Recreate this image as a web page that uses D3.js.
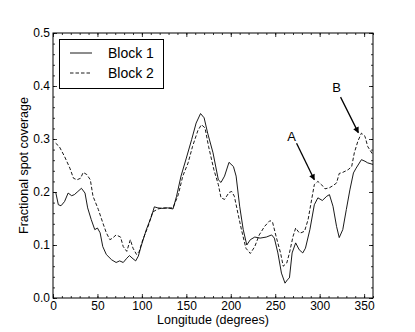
<!DOCTYPE html>
<html>
<head>
<meta charset="utf-8">
<script src="https://cdn.jsdelivr.net/npm/d3@7"></script>
<style>
  html, body { margin: 0; padding: 0; background: #fff; }
  svg text { font-family: "Liberation Sans", Arial, sans-serif; fill: #000; }
</style>
</head>
<body>
<svg id="chart" width="415" height="332"></svg>
<script>
// Longitude (deg) and fractional spot coverage
const lon1 = [3, 6, 9, 13, 17, 21, 24, 28, 32, 36, 39, 43, 47, 50, 53, 56, 60, 66, 71, 75, 79, 83, 86, 90, 93, 96, 99,
  105, 111, 114, 118, 124, 129, 135, 139, 144, 150, 156, 161, 166, 170, 174, 180, 186, 189, 193, 198, 203, 206, 210,
  214, 218, 222, 227, 233, 240, 246, 249, 253, 257, 261, 264, 266, 269, 273, 277, 281, 284, 289, 294, 298, 303, 308,
  311, 315, 319, 322, 326, 330, 334, 338, 341, 347, 351, 354, 360];
const cov1 = [0.200, 0.176, 0.174, 0.182, 0.198, 0.193, 0.195, 0.201, 0.207, 0.198, 0.170, 0.148, 0.129, 0.132, 0.123,
  0.097, 0.082, 0.072, 0.067, 0.070, 0.067, 0.075, 0.080, 0.074, 0.070, 0.079, 0.097, 0.129, 0.155, 0.172, 0.170,
  0.169, 0.170, 0.168, 0.192, 0.230, 0.264, 0.299, 0.330, 0.348, 0.340, 0.311, 0.274, 0.223, 0.218, 0.230, 0.256,
  0.248, 0.230, 0.173, 0.129, 0.100, 0.110, 0.115, 0.113, 0.115, 0.119, 0.113, 0.085, 0.047, 0.028, 0.035, 0.038,
  0.085, 0.104, 0.091, 0.085, 0.094, 0.129, 0.176, 0.189, 0.184, 0.192, 0.195, 0.173, 0.135, 0.114, 0.129, 0.167,
  0.204, 0.236, 0.245, 0.261, 0.258, 0.255, 0.252];

const lon2 = [3, 7, 13, 19, 23, 27, 31, 34, 38, 42, 45, 51, 56, 60, 64, 67, 71, 76, 79, 83, 87, 90, 94, 97, 101, 107,
  112, 118, 124, 129, 135, 141, 146, 152, 157, 163, 167, 171, 175, 181, 186, 189, 193, 198, 201, 204, 208, 212, 217,
  222, 227, 232, 238, 244, 247, 251, 256, 259, 263, 266, 270, 273, 277, 279, 283, 287, 291, 294, 298, 302, 306, 311,
  315, 319, 322, 326, 332, 336, 339, 343, 347, 351, 354, 360];
const cov2 = [0.292, 0.286, 0.267, 0.245, 0.226, 0.223, 0.226, 0.237, 0.233, 0.223, 0.192, 0.167, 0.142, 0.123, 0.110,
  0.113, 0.119, 0.115, 0.097, 0.088, 0.110, 0.094, 0.082, 0.088, 0.110, 0.135, 0.162, 0.168, 0.170, 0.170, 0.170,
  0.195, 0.230, 0.255, 0.286, 0.316, 0.327, 0.321, 0.286, 0.242, 0.214, 0.189, 0.186, 0.199, 0.201, 0.192, 0.160,
  0.129, 0.094, 0.084, 0.097, 0.119, 0.135, 0.146, 0.143, 0.116, 0.085, 0.060, 0.066, 0.085, 0.116, 0.132, 0.123,
  0.123, 0.126, 0.148, 0.186, 0.214, 0.220, 0.214, 0.206, 0.208, 0.212, 0.217, 0.235, 0.237, 0.242, 0.248, 0.274,
  0.296, 0.311, 0.305, 0.286, 0.270];

const xTicks = [0, 50, 100, 150, 200, 250, 300, 350];
const yTicks = [0.0, 0.1, 0.2, 0.3, 0.4, 0.5];
const seriesNames = ['Block 1', 'Block 2'];

// annotations: label position, arrow tail, arrow head (data coords)
const notes = [
  { text: 'A', lx: 268.5, ly: 0.306, x0: 274, y0: 0.292, x1: 294, y1: 0.223 },
  { text: 'B', lx: 319, ly: 0.398, x0: 323.5, y0: 0.379, x1: 343.5, y1: 0.312 }
];

const W = 415, H = 332;
const MARGIN = { top: 33, right: 42, bottom: 34, left: 53 };

const svg = d3.select('#chart');

const x = d3.scaleLinear().domain([0, 360]).range([MARGIN.left, W - MARGIN.right]);
const y = d3.scaleLinear().domain([0, 0.5]).range([H - MARGIN.bottom, MARGIN.top]);

const defs = svg.append('defs');
defs.append('marker')
  .attr('id', 'arrowHead')
  .attr('viewBox', '0 0 10 10')
  .attr('refX', 9).attr('refY', 5)
  .attr('markerWidth', 7).attr('markerHeight', 6)
  .attr('markerUnits', 'userSpaceOnUse')
  .attr('orient', 'auto')
  .append('path')
  .attr('d', 'M0,0 L10,5 L0,10 Z')
  .attr('fill', '#000');

// Lines
const lineGen = (xs, ys) => d3.line().x((_, i) => x(xs[i])).y(d => y(d))(ys);

svg.append('path')
  .attr('d', lineGen(lon1, cov1))
  .attr('fill', 'none')
  .attr('stroke', '#000')
  .attr('stroke-width', 0.9);

svg.append('path')
  .attr('d', lineGen(lon2, cov2))
  .attr('fill', 'none')
  .attr('stroke', '#000')
  .attr('stroke-width', 0.9)
  .attr('stroke-dasharray', '3.5 2');

// Axes: ticks inward on all four sides, minor ticks too
const xMinor = d3.range(0, 361, 10);
const yMinor = d3.range(0, 0.5001, 0.02);
const bottomY = H - MARGIN.bottom, topY = MARGIN.top;
const leftX = MARGIN.left, rightX = W - MARGIN.right;

function styleAxis(g) {
  g.select('.domain').remove();
  g.selectAll('line').attr('stroke', '#000').attr('stroke-width', 0.8);
  g.selectAll('text').attr('font-size', 12).attr('font-family', '"Liberation Sans", Arial, sans-serif');
}

svg.append('g').attr('transform', `translate(0,${bottomY})`)
  .call(d3.axisBottom(x).tickValues(xMinor).tickSize(-2).tickFormat(''))
  .call(styleAxis);
svg.append('g').attr('transform', `translate(0,${topY})`)
  .call(d3.axisTop(x).tickValues(xMinor).tickSize(-2).tickFormat(''))
  .call(styleAxis);
svg.append('g').attr('transform', `translate(${leftX},0)`)
  .call(d3.axisLeft(y).tickValues(yMinor).tickSize(-2).tickFormat(''))
  .call(styleAxis);
svg.append('g').attr('transform', `translate(${rightX},0)`)
  .call(d3.axisRight(y).tickValues(yMinor).tickSize(-2).tickFormat(''))
  .call(styleAxis);

svg.append('g').attr('transform', `translate(0,${bottomY})`)
  .call(d3.axisBottom(x).tickValues(xTicks).tickSize(-4).tickPadding(3).tickFormat(d3.format('d')))
  .call(styleAxis);
svg.append('g').attr('transform', `translate(0,${topY})`)
  .call(d3.axisTop(x).tickValues(xTicks).tickSize(-4).tickFormat(''))
  .call(styleAxis);
svg.append('g').attr('transform', `translate(${leftX},0)`)
  .call(d3.axisLeft(y).tickValues(yTicks).tickSize(-4).tickPadding(3).tickFormat(d3.format('.1f')))
  .call(styleAxis);
svg.append('g').attr('transform', `translate(${rightX},0)`)
  .call(d3.axisRight(y).tickValues(yTicks).tickSize(-4).tickFormat(''))
  .call(styleAxis);

// Frame
svg.append('rect')
  .attr('x', leftX).attr('y', topY)
  .attr('width', rightX - leftX).attr('height', bottomY - topY)
  .attr('fill', 'none')
  .attr('stroke', '#000')
  .attr('stroke-width', 1);

// Axis labels
svg.append('text')
  .attr('x', (leftX + rightX) / 2)
  .attr('y', 324)
  .attr('text-anchor', 'middle')
  .attr('font-size', 12.5)
  .text('Longitude (degrees)');

svg.append('text')
  .attr('transform', `translate(28,${(topY + bottomY) / 2}) rotate(-90)`)
  .attr('text-anchor', 'middle')
  .attr('font-size', 12.5)
  .text('Fractional spot coverage');

// Annotations
notes.forEach(n => {
  svg.append('text')
    .attr('x', x(n.lx)).attr('y', y(n.ly) + 5)
    .attr('text-anchor', 'middle')
    .attr('font-size', 13)
    .text(n.text);
  svg.append('line')
    .attr('x1', x(n.x0)).attr('y1', y(n.y0))
    .attr('x2', x(n.x1)).attr('y2', y(n.y1))
    .attr('stroke', '#000')
    .attr('stroke-width', 1.3)
    .attr('marker-end', 'url(#arrowHead)');
});

// Legend
const legend = svg.append('g');
legend.append('rect')
  .attr('x', 59.5).attr('y', 39.5)
  .attr('width', 104).attr('height', 49)
  .attr('fill', '#fff')
  .attr('stroke', '#000')
  .attr('stroke-width', 1);

seriesNames.forEach((name, i) => {
  const ly = 53 + i * 20;
  legend.append('line')
    .attr('x1', 70).attr('x2', 92)
    .attr('y1', ly).attr('y2', ly)
    .attr('stroke', '#000')
    .attr('stroke-width', 0.9)
    .attr('stroke-dasharray', i === 1 ? '3.5 2' : null);
  legend.append('text')
    .attr('x', 108).attr('y', ly + 5)
    .attr('font-size', 14)
    .text(name);
});
</script>
</body>
</html>
